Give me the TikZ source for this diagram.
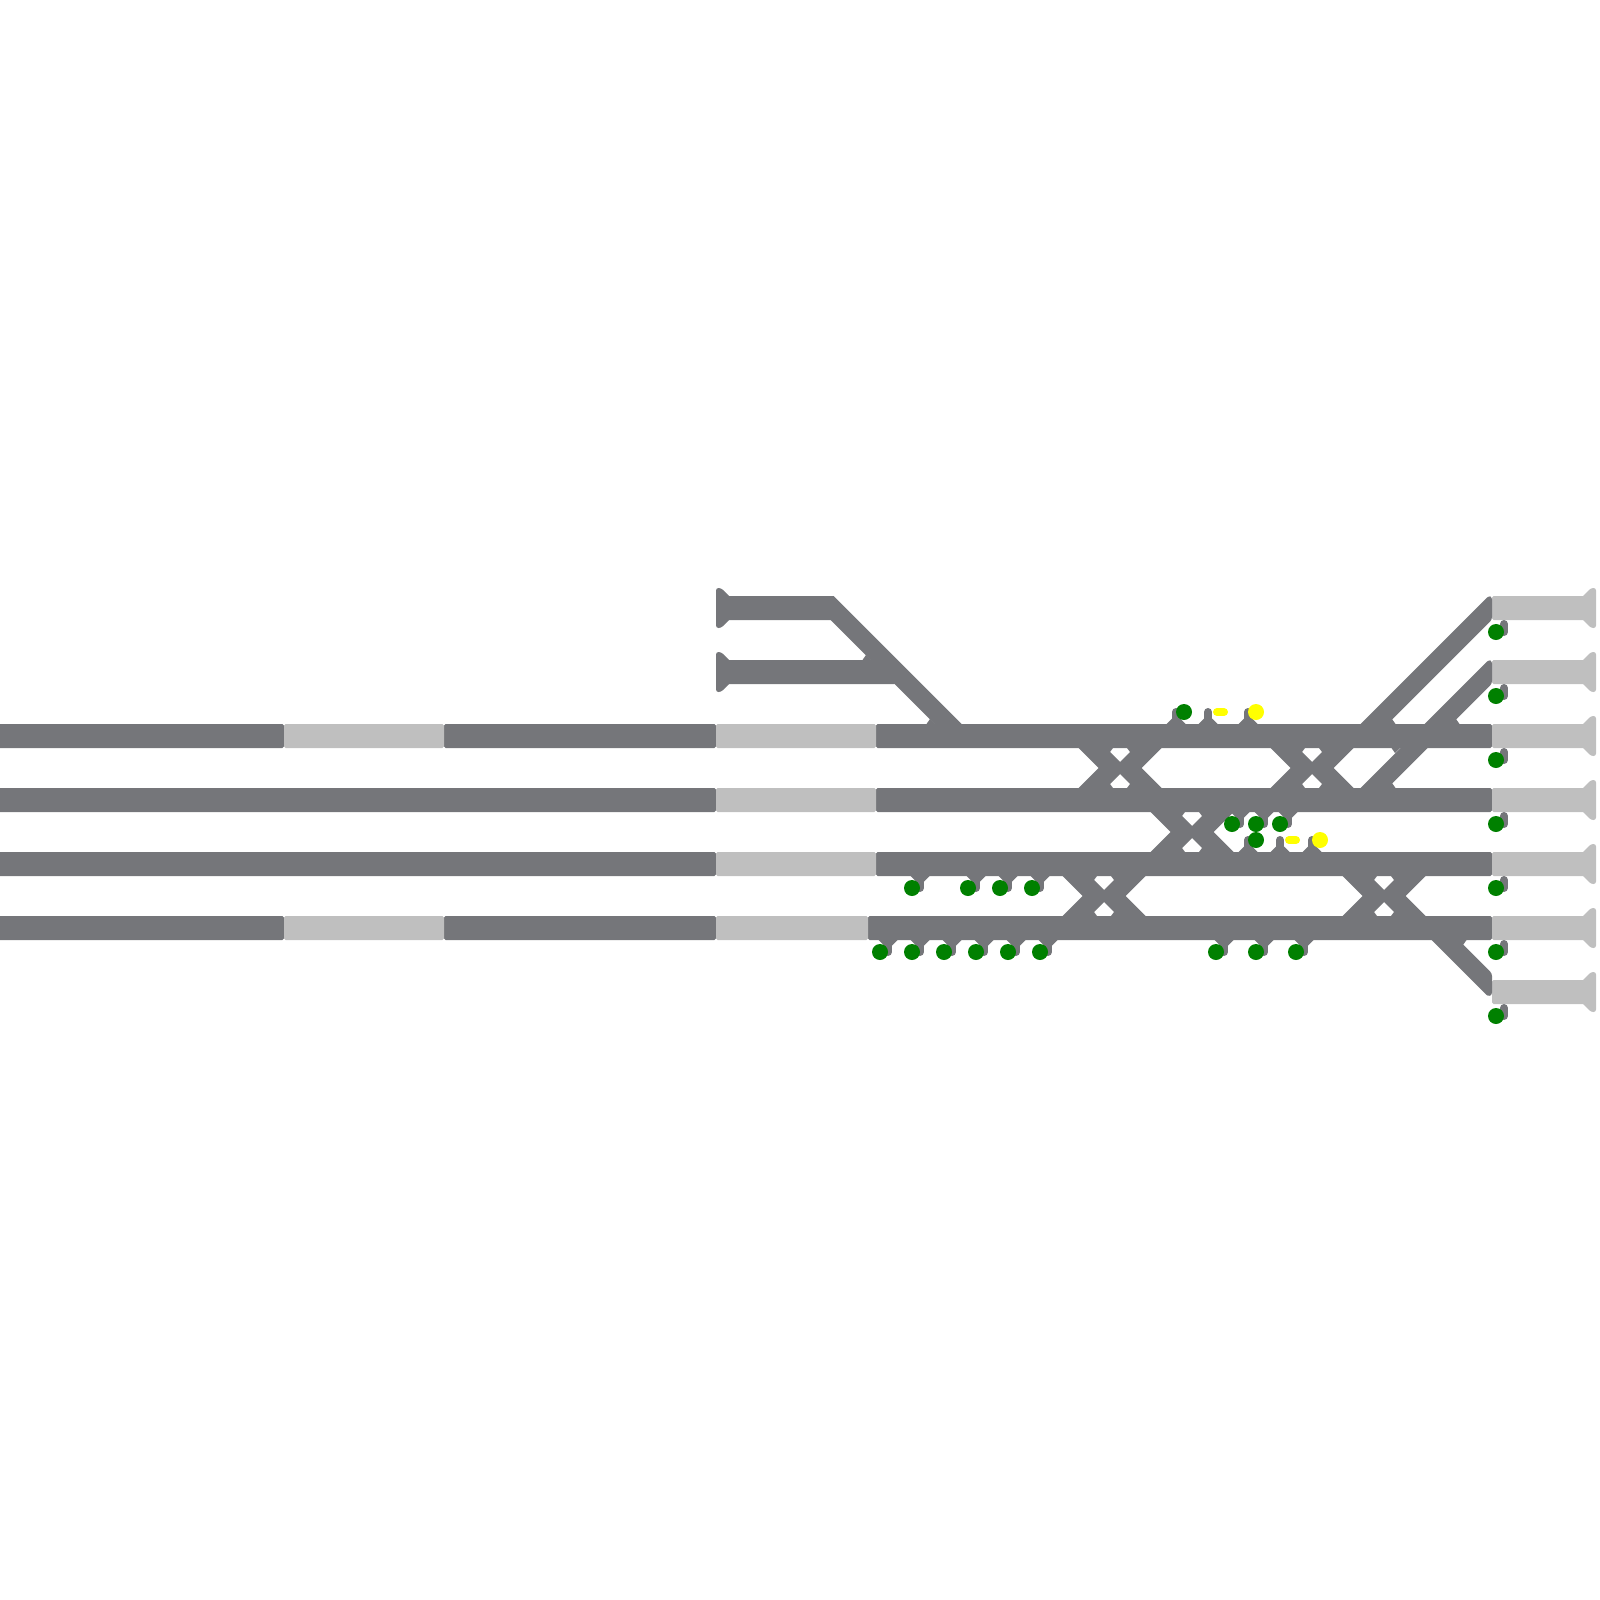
\documentclass[tikz,border=0pt]{standalone}
\usepackage{tikz}
\definecolor{beddark}{RGB}{117,118,122}
\definecolor{bedlight}{RGB}{191,191,191}
\definecolor{lampgreen}{RGB}{0,128,0}
\definecolor{lampyellow}{RGB}{255,255,0}
\tikzset{
    dark bed/.style={fill=beddark, rounded corners=0.45pt},
    light bed/.style={fill=bedlight, rounded corners=0.45pt},
    end flare/.style={rounded corners=0.7pt},
    stem line/.style={draw=beddark, line width=0.08cm, line cap=round},
    yellow bar/.style={draw=lampyellow, line width=0.08cm, line cap=round},
    green lamp/.style={circle, fill=lampgreen, minimum size=0.16cm, inner sep=0pt},
    yellow lamp/.style={circle, fill=lampyellow, minimum size=0.16cm, inner sep=0pt},
}
\newcommand{\drawcross}[2]{
    \fill[beddark, shift={(#1,#2)}]
    (-41.5,-20) -- (-21.5,0) -- (-41.5,20) -- (-7,20) -- (-10,16) -- (0,6) -- (10,16) -- (7,20)
    -- (41.5,20) -- (21.5,0) -- (41.5,-20) -- (7,-20) -- (10,-16) -- (0,-6) -- (-10,-16) -- (-7,-20) -- cycle;
}
\newcommand{\drawnotch}[4]{
    \fill[beddark, shift={(#1,#2)}, xscale=#3, yscale=#4] (-8.5,0) -- (-5,-5) -- (0,0) -- cycle;
}
\newcommand{\drawstem}[3]{
    \fill[beddark] ({#1-9.5},#2) -- ({#1-4},{#2+(#3)*5.5}) -- ({#1+4},{#2+(#3)*5.5}) -- ({#1+9.5},#2) -- cycle;
    \draw[stem line] (#1,#2) -- (#1,{#2+(#3)*12});
}
\begin{document}
\begin{tikzpicture}[x=0.01cm, y=-0.01cm]
    \useasboundingbox (0,0) rectangle (1600,1600);
    % beds
    \foreach \xa/\xb/\ty in {-9/284/736, 444/716/736, 876/1492/736, -9/716/800, 876/1492/800, -9/716/864,
        876/1492/864, -9/284/928, 444/716/928, 868/1492/928, 720/834/608, 720/896/672}
        \path[dark bed] (\xa,\ty-12) rectangle (\xb,\ty+12);
    \foreach \xa/\xb/\ty in {284/444/736, 716/876/736, 716/876/800, 716/876/864, 284/444/928, 716/868/928}
        \path[light bed] (\xa,\ty-12) rectangle (\xb,\ty+12);
    \foreach \ty in {608,672}
        \fill[beddark, end flare] (716,\ty-20) -- (721,\ty-20) -- (735,\ty-6)
        -- (735,\ty+6) -- (721,\ty+20) -- (716,\ty+20) -- cycle;
    \foreach \ty in {608,672,736,800,864,928,992}
        \path[light bed] (1492,\ty-12) rectangle (1590,\ty+12);
    \foreach \ty in {608,672,736,800,864,928,992}
        \fill[bedlight, end flare] (1577,\ty-6) -- (1591,\ty-20) -- (1596,\ty-20)
        -- (1596,\ty+20) -- (1591,\ty+20) -- (1577,\ty+6) -- cycle;
    % diagonals
    \fill[beddark] (830,596) -- (833.5,596) -- (961.5,724) -- (934.5,724) -- (830.5,620) -- cycle;
    \fill[beddark, end flare] (1354.5,730) -- (1488.5,596) -- (1492,597) -- (1492,619.5) -- (1381.5,730) -- cycle;
    \fill[beddark, end flare] (1354.5,794) -- (1488.5,660) -- (1492,661) -- (1492,683.5) -- (1381.5,794) -- cycle;
    \fill[beddark, end flare] (1425.5,934) -- (1488,996.5) -- (1492,995) -- (1492,973.5) -- (1452.5,934) -- cycle;
    \drawnotch{871}{660}{1}{1}
    \drawnotch{935}{724}{1}{1}
    \drawnotch{1387}{724}{-1}{1}
    \drawnotch{1451}{724}{-1}{1}
    \drawnotch{1400}{748}{1}{-1}
    \drawnotch{1387}{788}{-1}{1}
    \drawnotch{1458}{940}{-1}{-1}
    % crossovers
    \foreach \cx/\cy in {1120/768, 1312/768, 1192/832, 1104/896, 1384/896}
        {\drawcross{\cx}{\cy}}
    % signal stems
    \foreach \sx in {1176,1208,1248}
        {\drawstem{\sx}{724}{-1}}
    \foreach \sx in {1248,1280,1312}
        {\drawstem{\sx}{852}{-1}}
    \foreach \sx in {1240,1264,1288}
        {\drawstem{\sx}{812}{1}}
    \foreach \sx in {920,976,1008,1040}
        {\drawstem{\sx}{876}{1}}
    \foreach \sx in {888,920,952,984,1016,1048,1224,1264,1304}
        {\drawstem{\sx}{940}{1}}
    \foreach \ty in {608,672,736,800,864,928,992}
        \draw[stem line] (1504,\ty+16) -- (1504,\ty+24);
    % lamps
    \foreach \lx/\ly in {1184/712, 1232/824, 1256/824, 1280/824, 1256/840,
        912/888, 968/888, 1000/888, 1032/888,
        880/952, 912/952, 944/952, 976/952, 1008/952, 1040/952, 1216/952, 1256/952, 1296/952,
        1496/632, 1496/696, 1496/760, 1496/824, 1496/888, 1496/952, 1496/1016}
        \node[green lamp] (lamp\lx-\ly) at (\lx,\ly) {};
    \foreach \lx/\ly in {1256/712, 1320/840}
        \node[yellow lamp] (amber\lx-\ly) at (\lx,\ly) {};
    \draw[yellow bar] (1217,712) -- (1224,712);
    \draw[yellow bar] (1289,840) -- (1296,840);
\end{tikzpicture}
\end{document}
